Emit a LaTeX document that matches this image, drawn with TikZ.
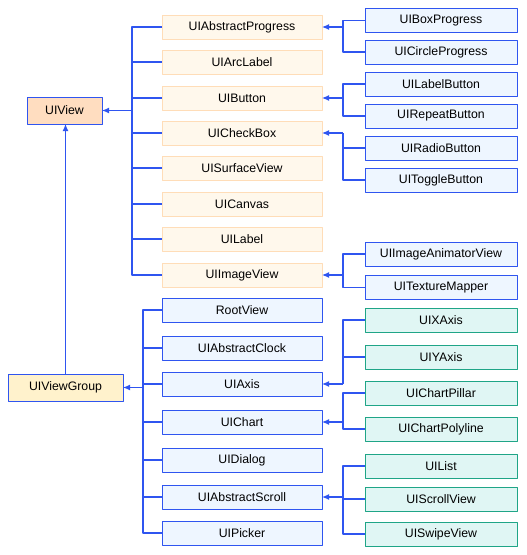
\documentclass[tikz,border=0pt]{standalone}
\usepackage{fontspec}
\setmainfont{Liberation Sans}
\usetikzlibrary{arrows.meta}
\definecolor{linkblue}{HTML}{2F55F0}
\definecolor{peach}{HTML}{FFDDC0}
\definecolor{cream}{HTML}{FFF2CC}
\definecolor{orangefill}{HTML}{FFF8EC}
\definecolor{orangeline}{HTML}{FFDDB8}
\definecolor{bluefill}{HTML}{EEF6FF}
\definecolor{tealfill}{HTML}{E0F6F4}
\definecolor{tealline}{HTML}{1FA587}
\begin{document}
\begin{tikzpicture}[x=1pt,y=-1pt,line join=round,
		box/.style={draw,line width=1pt,minimum height=24pt,inner sep=0pt,outer sep=0pt,font=\fontsize{12.3}{14}\selectfont},
		basebox/.style={box,draw=linkblue,minimum height=27pt},
		orangebox/.style={box,draw=orangeline,fill=orangefill,minimum width=160pt},
		bluebox/.style={box,draw=linkblue,fill=bluefill,minimum width=152pt},
		tealbox/.style={box,draw=tealline,fill=tealfill,minimum width=152pt},
		link/.style={linkblue,line width=1.2pt},
		arr/.style={link,-{Latex[length=7pt,width=6pt]}}]
		\useasboundingbox (0,0) rectangle (527,555);
		% base classes
		\node[basebox,fill=peach,minimum width=75pt] (UIView) at (64.5,110.5) {UIView};
		\node[basebox,fill=cream,minimum width=115pt] (UIViewGroup) at (65.5,387.5) {UIViewGroup};
		% first level
		\foreach \n/\y in {UIAbstractProgress/27,UIArcLabel/62,UIButton/98,UICheckBox/133,UISurfaceView/168,UICanvas/204,UILabel/239,UIImageView/275}
			\node[orangebox] (\n) at (242,\y) {\n};
		\foreach \n/\y in {RootView/310,UIAbstractClock/348,UIAxis/384,UIChart/422,UIDialog/460,UIAbstractScroll/497,UIPicker/533}
			\node[bluebox,minimum width=160pt] (\n) at (242,\y) {\n};
		% second level
		\foreach \n/\y in {UIBoxProgress/20.5,UICircleProgress/52,UILabelButton/84,UIRepeatButton/116,UIRadioButton/148,UIToggleButton/180,UIImageAnimatorView/254,UITextureMapper/287.5}
			\node[bluebox] (\n) at (441,\y) {\n};
		\foreach \n/\y in {UIXAxis/320,UIYAxis/357,UIChartPillar/393,UIChartPolyline/429,UIList/466,UIScrollView/499,UISwipeView/534}
			\node[tealbox] (\n) at (441,\y) {\n};
		% connectors
		\draw[arr] (UIViewGroup.north) -- (UIViewGroup.north |- UIView.south);
		\coordinate (jView) at (132,110.5);
		\foreach \n in {UIAbstractProgress,UIArcLabel,UIButton,UICheckBox,UISurfaceView,UICanvas,UILabel,UIImageView}
			\draw[link] (jView) |- (\n.west);
		\draw[arr] (jView) -- (UIView.east);
		\coordinate (jGroup) at (143,387.5);
		\foreach \n in {RootView,UIAbstractClock,UIAxis,UIChart,UIDialog,UIAbstractScroll,UIPicker}
			\draw[link] (jGroup) |- (\n.west);
		\draw[arr] (jGroup) -- (UIViewGroup.east);
		\foreach \p/\y/\kids in {UIAbstractProgress/27/{UIBoxProgress,UICircleProgress},UIButton/98/{UILabelButton,UIRepeatButton},UICheckBox/133/{UIRadioButton,UIToggleButton},UIImageView/275/{UIImageAnimatorView,UITextureMapper},UIAxis/384/{UIXAxis,UIYAxis},UIChart/422/{UIChartPillar,UIChartPolyline},UIAbstractScroll/497/{UIList,UIScrollView,UISwipeView}}{
			\coordinate (j\p) at (343,\y);
			\foreach \k in \kids
				\draw[link] (j\p) |- (\k.west);
			\draw[arr] (j\p) -- (\p.east);
		}
\end{tikzpicture}
\end{document}
